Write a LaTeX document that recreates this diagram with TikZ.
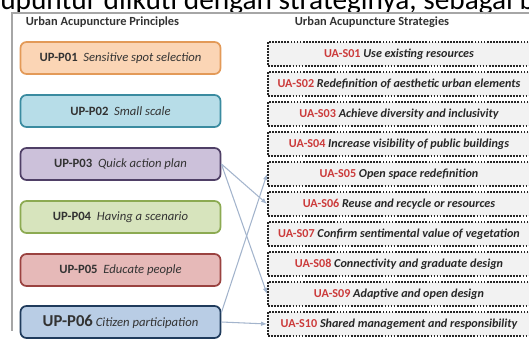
\documentclass[tikz,border=0pt]{standalone}
\usepackage{fontspec}
\setmainfont{Carlito}
\usetikzlibrary{arrows.meta}

\definecolor{orangefill}{HTML}{FBD5B5}
\definecolor{orangeline}{HTML}{E39A58}
\definecolor{cyanfill}{HTML}{B7DDE8}
\definecolor{cyanline}{HTML}{3A8BA0}
\definecolor{purplefill}{HTML}{CCC1DA}
\definecolor{purpleline}{HTML}{4F3F66}
\definecolor{greenfill}{HTML}{D7E4BD}
\definecolor{greenline}{HTML}{8CAA52}
\definecolor{redfill}{HTML}{E6B9B8}
\definecolor{redline}{HTML}{9A4240}
\definecolor{bluefill}{HTML}{B9CDE5}
\definecolor{blueline}{HTML}{1F3B5C}
\definecolor{textgrey}{HTML}{333333}
\definecolor{codered}{HTML}{CC3B3B}
\definecolor{boxgrey}{HTML}{F2F2F2}
\definecolor{linkblue}{HTML}{A3B4CC}

\begin{document}
\begin{tikzpicture}[
      x=0.75pt, y=-0.75pt,
      principle/.style={draw, rounded corners=4.5pt, line width=1.3pt, minimum width=150pt, minimum height=24pt, font=\fontsize{9.5}{11}\selectfont, text=textgrey},
      strategy/.style={draw=black!85, line width=1.4pt, dash pattern=on 1.3pt off 1pt, fill=boxgrey, minimum width=196.5pt, minimum height=18.5pt, font=\fontsize{9.1}{11}\selectfont\bfseries\itshape, text=black!85},
      heading/.style={font=\fontsize{9.3}{11}\selectfont\bfseries, text=black!80},
      link/.style={-{Latex[length=4.5pt,width=3.5pt]}, draw=linkblue, line width=0.8pt}
  ]
    \useasboundingbox (0,0) rectangle (529,341);
    \clip (0,0) rectangle (529,341);

    % running text of the page above the figure
    \node[anchor=base west, inner sep=0pt, font=\fontsize{22}{24}\selectfont] (pagetext) at (0,10) {upuntur diikuti dengan strateginya, sebagai b};
    \draw[black!35, line width=0.8pt] (12,331) -- (12,13) -- (540,13);

    \node[heading] (hp) at (102.5,22) {Urban Acupuncture Principles};
    \node[heading] (hs) at (372,22) {Urban Acupuncture Strategies};

    % principles
    \node[principle, fill=orangefill, draw=orangeline] (p1) at (120.5,58) {\textbf{UP-P01}\ \ \textit{Sensitive spot selection}};
    \node[principle, fill=cyanfill, draw=cyanline] (p2) at (120.5,111) {\textbf{UP-P02}\ \ \textit{Small scale}};
    \node[principle, fill=purplefill, draw=purpleline] (p3) at (120.5,164) {\textbf{UP-P03}\ \ \textit{Quick action plan}};
    \node[principle, fill=greenfill, draw=greenline] (p4) at (120.5,217) {\textbf{UP-P04}\ \ \textit{Having a scenario}};
    \node[principle, fill=redfill, draw=redline] (p5) at (120.5,270) {\textbf{UP-P05}\ \ \textit{Educate people}};
    \node[principle, fill=bluefill, draw=blueline] (p6) at (120.5,322) {{\fontsize{12.5}{13}\selectfont\textbf{UP-P06}} \textit{Citizen participation}};

    % strategies
    \node[strategy] (s1) at (399,54) {\textcolor{codered}{\upshape UA-S01} Use existing resources};
    \node[strategy] (s2) at (399,84) {\textcolor{codered}{\upshape UA-S02} Redefinition of aesthetic urban elements};
    \node[strategy] (s3) at (399,114) {\textcolor{codered}{\upshape UA-S03} Achieve diversity and inclusivity};
    \node[strategy] (s4) at (399,144) {\textcolor{codered}{\upshape UA-S04} Increase visibility of public buildings};
    \node[strategy] (s5) at (399,174) {\textcolor{codered}{\upshape UA-S05} Open space redefinition};
    \node[strategy] (s6) at (399,204) {\textcolor{codered}{\upshape UA-S06} Reuse and recycle or resources};
    \node[strategy] (s7) at (399,234) {\textcolor{codered}{\upshape UA-S07} Confirm sentimental value of vegetation};
    \node[strategy] (s8) at (399,264) {\textcolor{codered}{\upshape UA-S08} Connectivity and graduate design};
    \node[strategy] (s9) at (399,294) {\textcolor{codered}{\upshape UA-S09} Adaptive and open design};
    \node[strategy] (s10) at (399,324) {\textcolor{codered}{\upshape UA-S10} Shared management and responsibility};

    \draw[link] (p3.east) -- (s6.west);
    \draw[link] (p3.east) -- (s9.west);
    \draw[link] ([yshift=7pt]p6.east) -- (s5.west);
    \draw[link] (p6.east) -- (s10.west);
  \end{tikzpicture}
\end{document}
